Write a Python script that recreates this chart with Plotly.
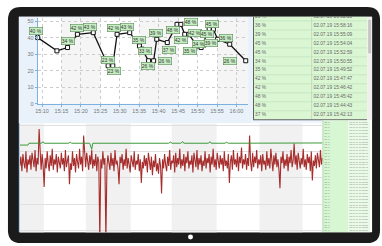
import plotly.graph_objects as go

W, H = 382, 246
DAY = "2019-07-02"
FONT = "Liberation Sans, Arial, sans-serif"

# ---------------- top chart: first part ----------------
head_times = ["15:08:54", "15:13:50", "15:16:34", "15:19:06", "15:23:11", "15:27:00",
              "15:28:12", "15:29:18", "15:32:33", "15:35:03", "15:35:42", "15:37:24",
              "15:38:42", "15:39:30"]
head_values = [40, 32, 34, 42, 43, 23, 23, 42, 43, 35, 33, 26, 26, 39]
head_labels = ["40 %", "", "34 %", "42 %", "43 %", "23 %", "23 %", "42 %", "43 %",
               "35 %", "33 %", "26 %", "26 %", "39 %"]

# ---------------- top table (newest first) = rest of the chart ----------------
table_date = "02.07.19"
table_times = ["16:02:23", "15:58:16", "15:55:09", "15:54:04", "15:52:59", "15:50:55",
               "15:49:52", "15:47:47", "15:46:42", "15:45:42", "15:44:43", "15:42:13"]
table_values = [26, 36, 39, 45, 45, 34, 35, 42, 42, 48, 48, 37]

y_ticks = [0, 10, 20, 30, 40, 50]

# ---------------- bottom signal ----------------
red_values = [
    49, 56, 45, 58, 51, 47, 60, 44, 54, 50, 57, 46, 59, 52, 48, 61, 45, 55, 50, 77,
    53, 46, 58, 49, 33, 55, 47, 60, 51, 45, 57, 49, 62, 46, 54, 50, 58, 44, 56, 52,
    47, 59, 50, 55, 45, 61, 48, 53, 57, 35, 51, 46, 60, 49, 55, 44, 58, 52, 47, 62,
    50, 56, 45, 72, 53, 48, 59, 51, 46, 57, 50, 61, 47, 54, 49, 58, 45, 56, 52, -8,
    54, 47, 60, 50, 55, -8, 48, 57, 51, 46, 59, 49, 55, 45, 61, 50, 53, 47, 35, 56,
    51, 58, 46, 54, 49, 62, 47, 55, 50, 44, 57, 52, 48, 60, 46, 53, 50, 58, 45, 54,
    36, 52, 47, 57, 49, 55, 44, 59, 50, 46, 56, 42, 53, 48, 58, 45, 51, 43, 55, 49,
    28, 54, 47, 58, 50, 45, 56, 49, 61, 46, 53, 51, 57, 44, 59, 48, 55, 50, 62, 47,
    54, 49, 58, 45, 56, 51, 60, 47, 53, 50, 57, 44, 59, 52, 48, 61, 46, 55, 50, 57,
    45, 53, 49, 60, 47, 55, 51, 58, 44, 56, 50, 62, 48, 54, 46, 59, 51, 47, 57, 50,
    55, 45, 60, 49, 53, 47, 58, 36, 52, 57, 46, 61, 50, 54, 48, 59, 45, 56, 51, 63,
    47, 54, 50, 58, 46, 55, 49, 72, 52, 45, 59, 48, 56, 51, 61, 47, 54, 50, 57, 45,
    58, 50, 53, 46, 60, 49, 55, 47, 62, 51, 45, 57, 50, 59, 48, 54, 46, 32, 56, 51,
    60, 47, 54, 49, 58, 45, 56, 51, 61, 48, 53, 66, 50, 57, 46, 59, 52, 47, 55, 50,
    62, 48, 54, 46, 58, 51, 56, 45, 60, 38, 53, 49, 57, 47, 59, 52, 48, 61, 50, 55,
]
green_idx = [0, 8, 9, 21, 23, 24, 48, 50, 51, 69, 71, 72, 90, 147, 149, 150, 159, 161, 162,
             186, 188, 189, 203, 204, 206, 299]
green_values = [64.8, 64.8, 66.2, 66.2, 67.3, 66.2, 66.2, 67.0, 66.2, 66.2, 61.5, 66.2, 66.2,
                66.2, 67.2, 66.2, 66.2, 67.4, 66.2, 66.2, 67.3, 66.2, 66.2, 67.1, 66.2, 66.4]

# ---------------- bottom list ----------------
list_values = ["52 %", "51 %", "53 %", "50 %", "52 %", "54 %", "51 %", "49 %", "52 %", "53 %",
               "50 %", "52 %", "51 %", "55 %", "52 %", "50 %", "53 %", "51 %", "52 %", "54 %",
               "50 %", "52 %", "51 %", "53 %", "49 %", "52 %", "54 %", "51 %", "50 %", "53 %",
               "52 %", "51 %", "55 %", "52 %", "50 %", "53 %", "51 %", "52 %", "54 %"]
list_times = ["02.07.19 16:03:59", "02.07.19 16:03:58", "02.07.19 16:03:57", "02.07.19 16:03:56",
              "02.07.19 16:03:55", "02.07.19 16:03:54", "02.07.19 16:03:53", "02.07.19 16:03:52",
              "02.07.19 16:03:51", "02.07.19 16:03:50", "02.07.19 16:03:49", "02.07.19 16:03:48",
              "02.07.19 16:03:47", "02.07.19 16:03:46", "02.07.19 16:03:45", "02.07.19 16:03:44",
              "02.07.19 16:03:43", "02.07.19 16:03:42", "02.07.19 16:03:41", "02.07.19 16:03:40",
              "02.07.19 16:03:39", "02.07.19 16:03:38", "02.07.19 16:03:37", "02.07.19 16:03:36",
              "02.07.19 16:03:35", "02.07.19 16:03:34", "02.07.19 16:03:33", "02.07.19 16:03:32",
              "02.07.19 16:03:31", "02.07.19 16:03:30", "02.07.19 16:03:29", "02.07.19 16:03:28",
              "02.07.19 16:03:27", "02.07.19 16:03:26", "02.07.19 16:03:25", "02.07.19 16:03:24",
              "02.07.19 16:03:23", "02.07.19 16:03:22", "02.07.19 16:03:21"]

# ---------------- layout constants (pixels) ----------------
label_offsets = [(-2, 7), (0, 0), (0, 7), (0, 6), (-3, 6), (0, 6), (1, -5), (-3, 6), (-3, 6),
                 (0, 6), (3, -2), (-1, -5), (11, 0), (-1, 6),
                 (2, -7), (-4, -6), (10, 2), (-4, -6), (6, 1), (-7, -5), (-2, 4), (3, 5),
                 (-6, -5), (-7, -4), (-4, 6), (-16, 0)]


def px(x):
    return x / W


def py(y):
    return 1 - y / H


def rect(x0, y0, x1, y1, fill, line_color=None, lw=0):
    return dict(type="rect", xref="paper", yref="paper", x0=px(x0), x1=px(x1),
                y0=py(y1), y1=py(y0), fillcolor=fill, layer="below",
                line=dict(width=lw, color=line_color or fill))


def hline(x0, x1, y, color, lw=1):
    return dict(type="line", xref="paper", yref="paper", x0=px(x0), x1=px(x1),
                y0=py(y), y1=py(y), layer="below", line=dict(color=color, width=lw))


def vline(x, y0, y1, color, lw=1):
    return dict(type="line", xref="paper", yref="paper", x0=px(x), x1=px(x),
                y0=py(y0), y1=py(y1), layer="below", line=dict(color=color, width=lw))


def rounded(x0, y0, x1, y1, r):
    rx, ry = r / W, r / H
    X0, X1, Y0, Y1 = px(x0), px(x1), py(y1), py(y0)
    return (f"M {X0+rx},{Y1} L {X1-rx},{Y1} Q {X1},{Y1} {X1},{Y1-ry} "
            f"L {X1},{Y0+ry} Q {X1},{Y0} {X1-rx},{Y0} L {X0+rx},{Y0} "
            f"Q {X0},{Y0} {X0},{Y0+ry} L {X0},{Y1-ry} Q {X0},{Y1} {X0+rx},{Y1} Z")


# ---------------- build series ----------------
chart_times = [f"{DAY} {t}" for t in head_times] + [f"{DAY} {t}" for t in table_times[::-1]]
chart_values = head_values + table_values[::-1]
chart_labels = head_labels + [f"{v} %" for v in table_values[::-1]]

fig = go.Figure()

fig.add_trace(go.Scatter(
    x=chart_times, y=chart_values, mode="lines+markers", xaxis="x", yaxis="y",
    line=dict(color="#111111", width=1.3),
    marker=dict(symbol="square", size=4, color="white", line=dict(color="#111111", width=1)),
    cliponaxis=False, hoverinfo="skip"))

# bottom signal
fig.add_trace(go.Scatter(
    x=list(range(len(red_values))), y=red_values, mode="lines", xaxis="x2", yaxis="y2",
    line=dict(color="rgba(158,22,22,0.9)", width=1.1), hoverinfo="skip"))
fig.add_trace(go.Scatter(
    x=green_idx, y=green_values, mode="lines", xaxis="x2", yaxis="y2",
    line=dict(color="#3c9a3c", width=1), hoverinfo="skip"))

# top table text (row -1 is the partly scrolled-away row)
rows = list(range(-1, len(table_values) - 1))
fig.add_trace(go.Scatter(
    x=[2] * len(rows), y=rows, mode="text", text=[f"{v} %" for v in table_values],
    textposition="middle right", textfont=dict(size=4.8, color="#666666", family=FONT),
    xaxis="x3", yaxis="y3", hoverinfo="skip"))
fig.add_trace(go.Scatter(
    x=[61] * len(rows), y=rows, mode="text", text=[f"{table_date} {t}" for t in table_times],
    textposition="middle right", textfont=dict(size=4.8, color="#666666", family=FONT),
    xaxis="x3", yaxis="y3", hoverinfo="skip"))

# bottom list text
lrows = list(range(len(list_values)))
fig.add_trace(go.Scatter(
    x=[2] * len(lrows), y=lrows, mode="text", text=list_values,
    textposition="middle right", textfont=dict(size=2.3, color="#8a8a8a", family=FONT),
    xaxis="x4", yaxis="y4", hoverinfo="skip"))
fig.add_trace(go.Scatter(
    x=[27] * len(lrows), y=lrows, mode="text", text=list_times,
    textposition="middle right", textfont=dict(size=2.3, color="#8a8a8a", family=FONT),
    xaxis="x4", yaxis="y4", hoverinfo="skip"))

# ---------------- shapes ----------------
shapes = []
shapes.append(dict(type="path", xref="paper", yref="paper", path=rounded(5, 7, 380, 246, 13),
                   fillcolor="#1b1b1b", line=dict(width=0), layer="below"))
shapes.append(rect(16, 17, 372, 235, "#ffffff"))
# top chart panel
shapes.append(rect(16, 17, 252, 125, "#e9f2fb"))
shapes.append(rect(250, 121, 322, 125, "#eef5fc"))
shapes.append(rect(35, 18, 247, 105, "#ffffff"))
top_bands = [("15:15", "15:25"), ("15:35", "15:45"), ("15:55", "16:02:59")]
for a, b in top_bands:
    shapes.append(dict(type="rect", xref="x", yref="paper", x0=f"{DAY} {a}", x1=f"{DAY} {b}",
                       y0=py(105), y1=py(18), fillcolor="#f5f5f5", line=dict(width=0),
                       layer="below"))
# top table
TB_TOP, TB_BOT, ROW_H = 17, 121.25, 9.1
shapes.append(rect(252, TB_TOP, 367, TB_BOT, "#daf6d3"))
for k in range(len(table_values) - 1):
    shapes.append(hline(252, 367, TB_BOT - ROW_H * (k + 1), "#c3e2bd", 0.8))
shapes.append(vline(311, TB_TOP, TB_BOT, "#bddbb7", 0.8))
shapes.append(vline(252.5, TB_TOP, TB_BOT, "#5e5e5e", 1))
shapes.append(hline(252, 367, TB_BOT, "#5e5e5e", 1))
shapes.append(rect(367, TB_TOP, 372, TB_BOT, "#efefef"))
shapes.append(rect(368, 20, 371, 54, "#c6c6c6"))
# bottom chart bands
shapes.append(rect(17, 125, 322, 235, "#ffffff"))
bottom_bands = [(0, 23.7), (65.1, 109.5), (150, 194.4), (236.8, 279.3)]
for a, b in bottom_bands:
    shapes.append(dict(type="rect", xref="x2", yref="paper", x0=a, x1=b,
                       y0=py(235), y1=py(125), fillcolor="#f1f1f1", line=dict(width=0),
                       layer="below"))
# bottom list
shapes.append(rect(322, 122, 348, 235, "#d7f6d2"))
shapes.append(rect(348, 122, 370, 235, "#e9fbe6"))
shapes.append(vline(322.5, 122, 235, "#a9d9a3", 0.8))
# home button
shapes.append(dict(type="circle", xref="paper", yref="paper", x0=px(186.5), x1=px(191.5),
                   y0=py(242.5), y1=py(237.5), fillcolor="#ffffff", line=dict(width=0),
                   layer="below"))

# ---------------- label boxes ----------------
annotations = []
for t, v, lab, (dx, dy) in zip(chart_times, chart_values, chart_labels, label_offsets):
    if not lab:
        continue
    annotations.append(dict(
        x=t, y=v, xref="x", yref="y", text=lab, showarrow=False, xshift=dx, yshift=dy,
        font=dict(size=5, color="#333333", family=FONT), bgcolor="#c8eec3",
        bordercolor="#5a8a5a", borderwidth=0.6, borderpad=0.2))

tick_font = dict(size=5.5, color="#777777", family=FONT)
fig.update_layout(
    width=W, height=H, autosize=False, margin=dict(l=0, r=0, t=0, b=0),
    paper_bgcolor="#ffffff", plot_bgcolor="rgba(0,0,0,0)", showlegend=False,
    font=dict(family=FONT),
    shapes=shapes, annotations=annotations,
    xaxis=dict(domain=[px(35), px(247)], anchor="y", type="date",
               range=[f"{DAY} 15:08:54", f"{DAY} 16:02:59"],
               tick0=f"{DAY} 15:10", dtick=300000, tickformat="%H:%M",
               showgrid=True, gridcolor="#cccccc", griddash="dot", gridwidth=0.8,
               showline=True, linecolor="#7eb0e0", linewidth=1,
               ticks="outside", ticklen=2, tickcolor="#7eb0e0", tickfont=tick_font,
               zeroline=False, fixedrange=True),
    yaxis=dict(domain=[py(105), py(18)], anchor="x", range=[0, 52], tickvals=y_ticks,
               showgrid=True, gridcolor="#cccccc", griddash="dot", gridwidth=0.8,
               showline=True, linecolor="#7eb0e0", linewidth=1,
               ticks="outside", ticklen=2, tickcolor="#7eb0e0", tickfont=tick_font,
               zeroline=False, fixedrange=True),
    xaxis2=dict(domain=[px(17), px(322)], anchor="y2", range=[0, len(red_values) - 1],
                visible=False, fixedrange=True),
    yaxis2=dict(domain=[py(235), py(125)], anchor="x2", range=[-1.3, 81.2], dtick=20, tick0=0,
                showgrid=True, gridcolor="#e0e0e0", gridwidth=1, showticklabels=False,
                ticks="", showline=True, linecolor="#a9cbea", zeroline=False, fixedrange=True),
    xaxis3=dict(domain=[px(252), px(367)], anchor="y3", range=[0, 115], visible=False),
    yaxis3=dict(domain=[py(TB_BOT), py(TB_TOP)], anchor="x3",
                range=[len(table_values) - 1.5, -0.95], visible=False),
    xaxis4=dict(domain=[px(322), px(370)], anchor="y4", range=[0, 48], visible=False),
    yaxis4=dict(domain=[py(235), py(122)], anchor="x4",
                range=[len(list_values) - 0.5, -0.5], visible=False),
)

fig.write_html("out.html", config=dict(displayModeBar=False),
               post_script="document.body.style.margin='0px';document.body.style.overflow='hidden';")
